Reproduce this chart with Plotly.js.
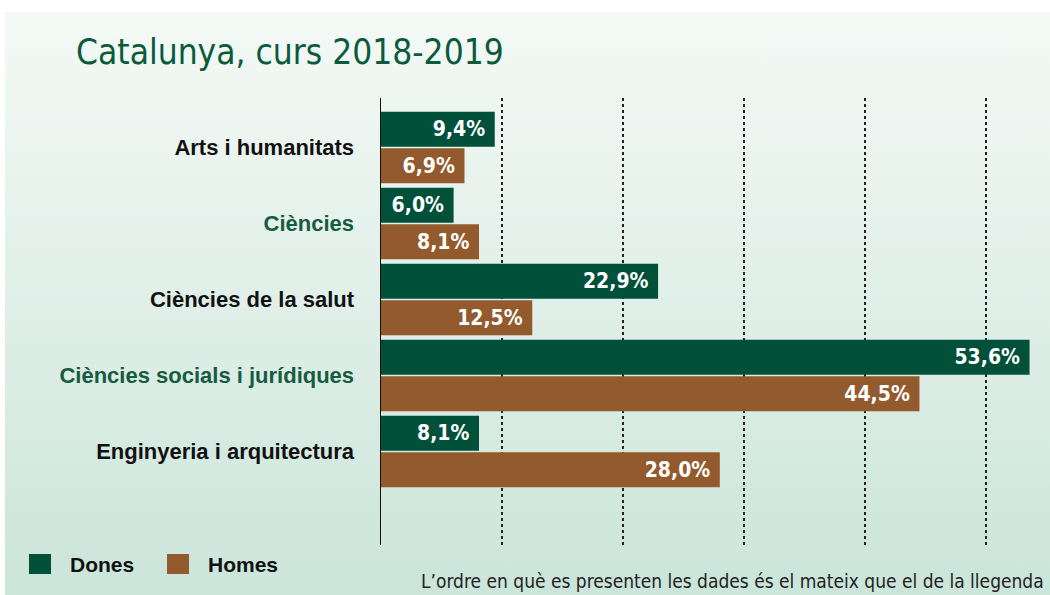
<!DOCTYPE html>
<html>
<head>
<meta charset="utf-8">
<script src="https://cdn.plot.ly/plotly-3.0.1.min.js"></script>
<style>
  html, body { margin: 0; padding: 0; background: #ffffff; }
  #wrap { position: relative; width: 1050px; height: 595px; overflow: hidden; background: #ffffff; }
  #bg { position: absolute; left: 5px; top: 12px; width: 1045px; height: 583px;
        background: linear-gradient(to bottom, #f4f9f6 0%, #e2f0ea 45%, #cbe5da 100%); }
  #chart { position: absolute; left: 0; top: 0; width: 1050px; height: 595px; }
</style>
</head>
<body>
<div id="wrap"><div id="bg"></div><div id="chart"></div></div>
<script>
// ---- data ----
const categories = ["Arts i humanitats", "Ciències", "Ciències de la salut", "Ciències socials i jurídiques", "Enginyeria i arquitectura"];
const dones = [9.4, 6.0, 22.9, 53.6, 8.1];
const homes = [6.9, 8.1, 12.5, 44.5, 28.0];
const seriesNames = ["Dones", "Homes"];
const gridTicks = [10, 20, 30, 40, 50];
const titleText = "Catalunya, curs 2018-2019";
const noteText = "L’ordre en què es presenten les dades és el mateix que el de la llegenda";

// ---- style ----
const colDones = "#00503a";
const colHomes = "#935b2d";
const green = "#175b40";
const labelColors = ["#111111", green, "#111111", green, "#111111"];
const fmt = v => v.toFixed(1).replace(".", ",") + "%";
const pad = "&nbsp;";
const condensed = "DejaVu Sans Condensed, Liberation Sans Narrow, sans-serif";

const barText = {family: condensed, size: 21, color: "#ffffff", weight: "bold"};

const traces = [
  {type: "bar", orientation: "h", name: seriesNames[0], y: categories, x: dones,
   text: dones.map(v => fmt(v) + pad), textposition: "inside", insidetextanchor: "end",
   textfont: barText, insidetextfont: barText, constraintext: "none",
   marker: {color: colDones}, cliponaxis: false},
  {type: "bar", orientation: "h", name: seriesNames[1], y: categories, x: homes,
   text: homes.map(v => fmt(v) + pad), textposition: "inside", insidetextanchor: "end",
   textfont: barText, insidetextfont: barText, constraintext: "none",
   marker: {color: colHomes}, cliponaxis: false}
];

const legendFont = {family: "Liberation Sans, Arial, sans-serif", size: 21, color: "#111111", weight: "bold"};

const layout = {
  width: 1050, height: 595,
  paper_bgcolor: "rgba(0,0,0,0)", plot_bgcolor: "rgba(0,0,0,0)",
  margin: {l: 381, r: 10, t: 98, b: 50, autoexpand: false},
  showlegend: false,
  barmode: "group", bargap: 0.04, bargroupgap: 0.04,
  title: {text: titleText, x: 76/1050, xanchor: "left", xref: "container",
          y: 1 - 52/595, yanchor: "middle", yref: "container",
          font: {family: condensed, size: 35, color: "#0b5a3b"}},
  xaxis: {range: [0, 659/12.1], tickvals: gridTicks, showticklabels: false, ticks: "",
          showgrid: true, gridcolor: "#222222", griddash: "dot", gridwidth: 1.5,
          zeroline: false, showline: false, fixedrange: true},
  yaxis: {type: "category", range: [5.23, -0.65], tickvals: categories,
          ticktext: categories.map((c, i) => `<span style="color:${labelColors[i]}">${c}</span>`),
          ticks: "outside", ticklen: 21, tickcolor: "rgba(0,0,0,0)",
          tickfont: {family: "Liberation Sans, Arial, sans-serif", size: 22, color: "#111111", weight: "bold"},
          showline: true, linecolor: "#111111", linewidth: 1.5, showgrid: false, zeroline: false, fixedrange: true},
  shapes: [
    {type: "rect", xref: "paper", yref: "paper", x0: -352/659, x1: -330/659, y0: -29/447, y1: -9/447,
     fillcolor: colDones, line: {width: 0}},
    {type: "rect", xref: "paper", yref: "paper", x0: -214/659, x1: -192/659, y0: -29/447, y1: -9/447,
     fillcolor: colHomes, line: {width: 0}}
  ],
  annotations: [
    {xref: "paper", yref: "paper", x: -313/659, y: -19/447, xanchor: "left", yanchor: "middle",
     text: seriesNames[0], showarrow: false, font: legendFont},
    {xref: "paper", yref: "paper", x: -175/659, y: -19/447, xanchor: "left", yanchor: "middle",
     text: seriesNames[1], showarrow: false, font: legendFont},
    {xref: "paper", yref: "paper", x: 1 + 6/659, y: -36/447, xanchor: "right", yanchor: "middle",
     text: noteText, showarrow: false,
     font: {family: condensed, size: 19, color: "#222222"}}
  ]
};

Plotly.newPlot("chart", traces, layout, {staticPlot: true, displayModeBar: false});
</script>
</body>
</html>
